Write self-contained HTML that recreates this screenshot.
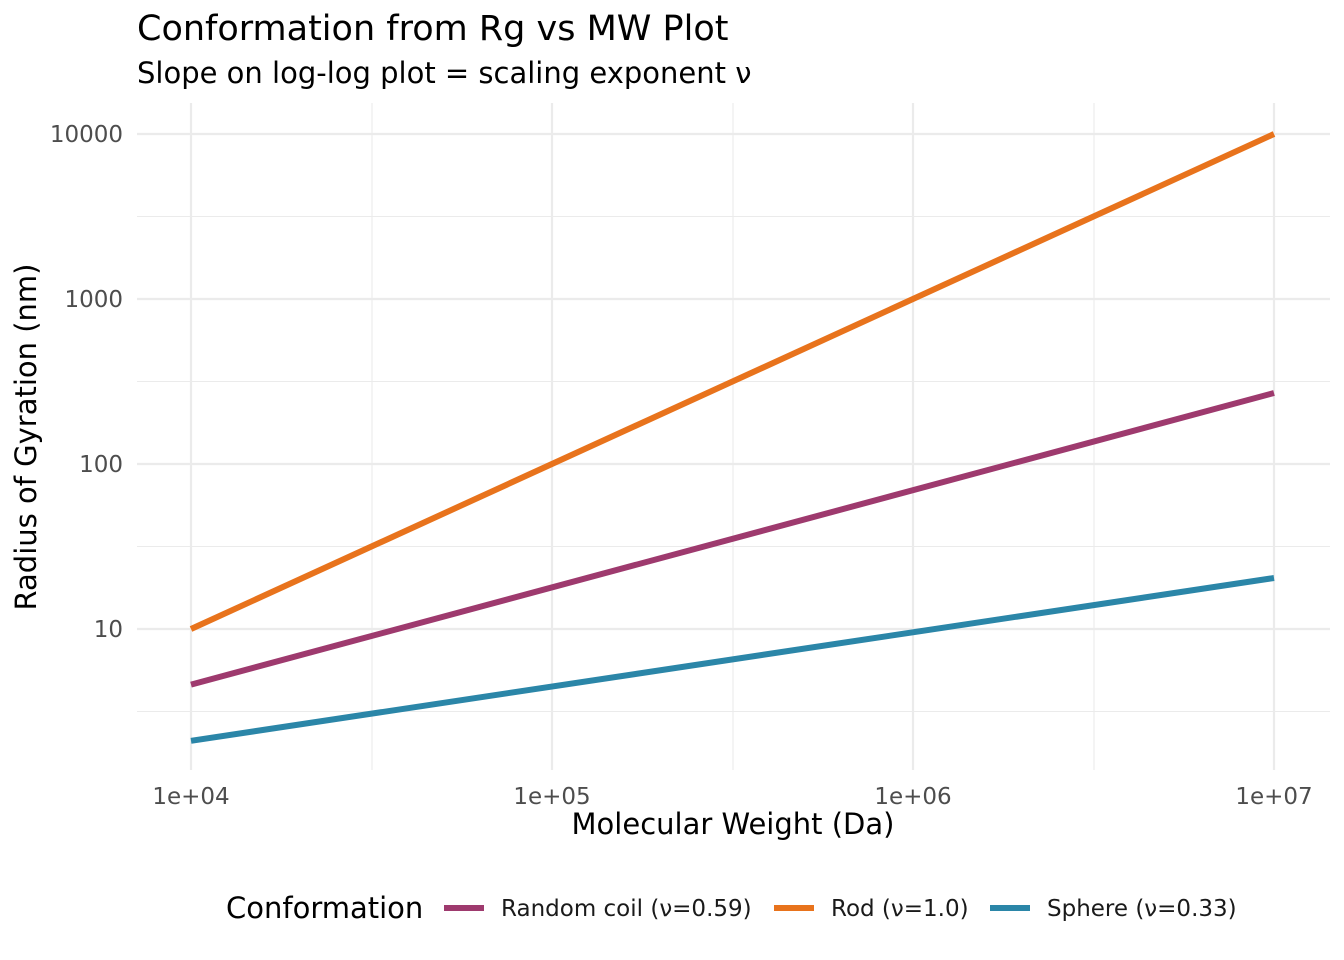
<!DOCTYPE html>
<html><head><meta charset="utf-8"><style>
html,body{margin:0;padding:0;background:#fff;}
svg{display:block;font-family:"DejaVu Sans","Liberation Sans",sans-serif;}
</style></head><body>
<svg width="1344" height="960" viewBox="0 0 1344 960" xmlns="http://www.w3.org/2000/svg">
<rect width="1344" height="960" fill="#fff"/>
<g stroke="#ebebeb" stroke-width="1.1">
<line x1="137" x2="1330" y1="216.5" y2="216.5"/>
<line x1="137" x2="1330" y1="381.5" y2="381.5"/>
<line x1="137" x2="1330" y1="546.5" y2="546.5"/>
<line x1="137" x2="1330" y1="711.5" y2="711.5"/>
<line x1="372" x2="372" y1="103" y2="770"/>
<line x1="733" x2="733" y1="103" y2="770"/>
<line x1="1094" x2="1094" y1="103" y2="770"/>
</g>
<g stroke="#ebebeb" stroke-width="2.2">
<line x1="137" x2="1330" y1="134" y2="134"/>
<line x1="137" x2="1330" y1="299" y2="299"/>
<line x1="137" x2="1330" y1="464" y2="464"/>
<line x1="137" x2="1330" y1="629" y2="629"/>
<line x1="191" x2="191" y1="103" y2="770"/>
<line x1="552" x2="552" y1="103" y2="770"/>
<line x1="913" x2="913" y1="103" y2="770"/>
<line x1="1274" x2="1274" y1="103" y2="770"/>
</g>
<g stroke-width="6" stroke-linecap="butt">
<line x1="191" y1="629" x2="1274" y2="134" stroke="#e8731c"/>
<line x1="191" y1="684.6" x2="1274" y2="393" stroke="#9e3a6e"/>
<line x1="191" y1="740.8" x2="1274" y2="578" stroke="#2b86a8"/>
</g>
<g fill="#4d4d4d" font-size="23" text-anchor="end">
<text x="123" y="142">10000</text>
<text x="123" y="307">1000</text>
<text x="123" y="472">100</text>
<text x="123" y="637">10</text>
</g>
<g fill="#4d4d4d" font-size="23" text-anchor="middle">
<text x="191" y="804">1e+04</text>
<text x="552" y="804">1e+05</text>
<text x="913" y="804">1e+06</text>
<text x="1274" y="804">1e+07</text>
</g>
<text x="733" y="834" font-size="29" text-anchor="middle" fill="#000">Molecular Weight (Da)</text>
<text transform="translate(36,437) rotate(-90)" font-size="29" text-anchor="middle" fill="#000">Radius of Gyration (nm)</text>
<text x="137" y="40" font-size="35" fill="#000">Conformation from Rg vs MW Plot</text>
<text x="137" y="83" font-size="29" fill="#000">Slope on log-log plot = scaling exponent ν</text>
<text x="226" y="918" font-size="29" fill="#000">Conformation</text>
<line x1="444" x2="484" y1="908" y2="908" stroke="#9e3a6e" stroke-width="6"/>
<text x="501" y="916" font-size="23" fill="#1a1a1a">Random coil (ν=0.59)</text>
<line x1="774" x2="814" y1="908" y2="908" stroke="#e8731c" stroke-width="6"/>
<text x="831" y="916" font-size="23" fill="#1a1a1a">Rod (ν=1.0)</text>
<line x1="990" x2="1030" y1="908" y2="908" stroke="#2b86a8" stroke-width="6"/>
<text x="1047" y="916" font-size="23" fill="#1a1a1a">Sphere (ν=0.33)</text>
</svg>
</body></html>
